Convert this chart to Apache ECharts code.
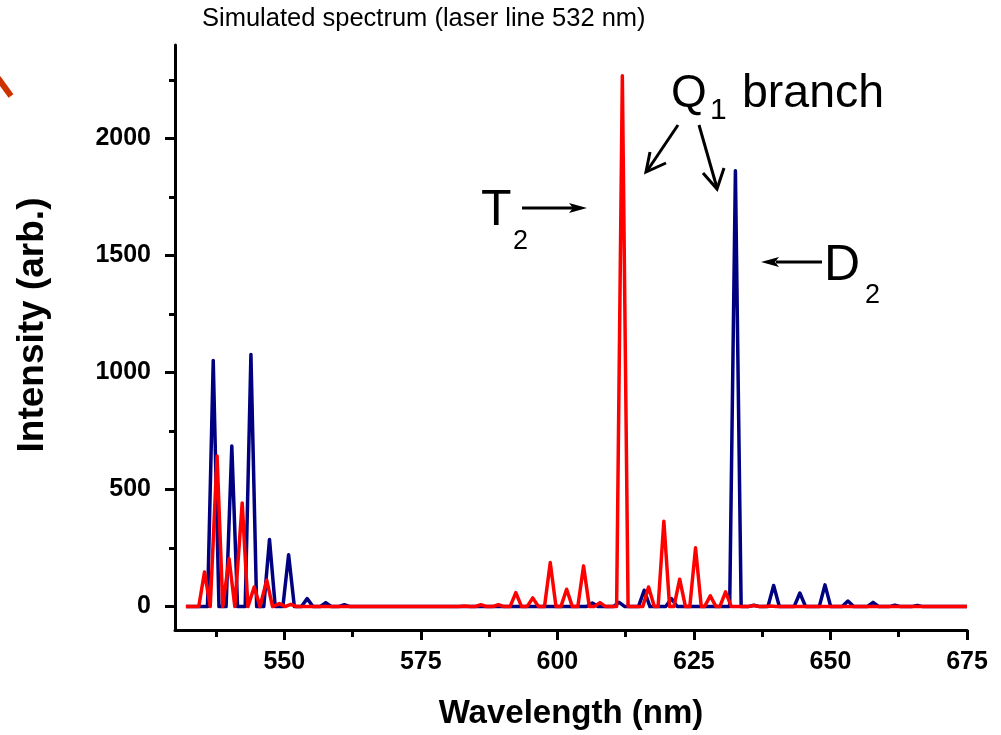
<!DOCTYPE html>
<html>
<head>
<meta charset="utf-8">
<title>Simulated spectrum</title>
<script src="https://cdn.jsdelivr.net/npm/echarts@6/dist/echarts.min.js"></script>
<style>
html, body { margin: 0; padding: 0; background: #fff; }
#main { width: 1001px; height: 735px; }
</style>
</head>
<body>
<div id="main"></div>
<script>
// 峰位置 (nm) 与峰高 (arb.)
var d2Centers = [537.0, 540.4, 543.9, 547.3, 550.8, 554.2, 557.6, 561.0, 606.4, 611.3, 615.9, 620.9, 632.6, 636.0, 639.6, 644.4, 649.0, 653.2, 657.8, 661.8, 665.9];
var d2Heights = [1052, 686, 1077, 287, 222, 34, 17, 8, 15, 18, 70, 34, 1863, 6, 90, 58, 93, 24, 18, 6, 5];

var t2Centers = [535.4, 537.7, 539.9, 542.3, 544.5, 546.8, 549.1, 551.2, 583.0, 586.0, 589.2, 592.4, 595.5, 598.7, 601.7, 604.8, 607.8, 611.9, 616.7, 619.5, 622.4, 625.3, 628.0, 630.8, 635.9, 639.0];
var t2Heights = [148, 644, 205, 443, 84, 113, 13, 10, 3, 8, 8, 60, 37, 188, 74, 174, 17, 2269, 84, 365, 117, 251, 46, 63, 5, 3];

// 坐标轴刻度
var xMajorTicks = [550, 575, 600, 625, 650, 675];
var xMinorTicks = [537.5, 562.5, 587.5, 612.5, 637.5, 662.5];
var yMajorTicks = [0, 500, 1000, 1500, 2000];
var yMinorTicks = [250, 750, 1250, 1750, 2250];

var FONT = '"Liberation Sans", Arial, Helvetica, sans-serif';
var START = 532, END = 675, HALF = 1.05;

// 把峰列表拼成折线数据（基线 - 峰顶 - 基线）
function buildSpectrum(centers, heights) {
    var pts = [[START, 0]];
    for (var i = 0; i < centers.length; i++) {
        pts.push([centers[i] - HALF, 0]);
        pts.push([centers[i], heights[i]]);
        pts.push([centers[i] + HALF, 0]);
    }
    pts.push([END, 0]);
    return pts;
}

var myChart = echarts.init(document.getElementById('main'));

var tickLabel = {
    color: '#000',
    fontFamily: FONT,
    fontWeight: 'bold',
    fontSize: 25,
    formatter: function (v) { return String(v); }
};

var option = {
    backgroundColor: '#fff',
    animation: false,
    title: {
        text: 'Simulated spectrum (laser line 532 nm)',
        left: 202,
        top: 6,
        padding: 0,
        textStyle: { fontFamily: FONT, fontWeight: 'normal', fontSize: 25.5, color: '#000' }
    },
    grid: { left: 175, right: 34, top: 45, bottom: 103 },
    xAxis: [{
        type: 'value',
        min: 530, max: 675,
        position: 'bottom',
        name: 'Wavelength (nm)',
        nameLocation: 'middle',
        nameGap: 67,
        nameTextStyle: { fontFamily: FONT, fontWeight: 'bold', fontSize: 33, color: '#000' },
        axisLine: { onZero: false, lineStyle: { color: '#000', width: 3 } },
        axisTick: { customValues: xMajorTicks, length: 10, lineStyle: { color: '#000', width: 3 } },
        axisLabel: Object.assign({ customValues: xMajorTicks, margin: 20 }, tickLabel),
        splitLine: { show: false }
    }, {
        type: 'value',
        min: 530, max: 675,
        position: 'bottom',
        axisLine: { show: false, onZero: false },
        axisTick: { customValues: xMinorTicks, length: 7, lineStyle: { color: '#000', width: 3 } },
        axisLabel: { show: false },
        splitLine: { show: false }
    }],
    yAxis: [{
        type: 'value',
        min: -100, max: 2400,
        position: 'left',
        name: 'Intensity (arb.)',
        nameLocation: 'middle',
        nameGap: 124,
        nameTextStyle: { fontFamily: FONT, fontWeight: 'bold', fontSize: 37, color: '#000', padding: [0, 0, 0, 25] },
        axisLine: { onZero: false, lineStyle: { color: '#000', width: 3 } },
        axisTick: { customValues: yMajorTicks, length: 10, lineStyle: { color: '#000', width: 3 } },
        axisLabel: Object.assign({ customValues: yMajorTicks, margin: 24 }, tickLabel),
        splitLine: { show: false }
    }, {
        type: 'value',
        min: -100, max: 2400,
        position: 'left',
        axisLine: { show: false, onZero: false },
        axisTick: { customValues: yMinorTicks, length: 6, lineStyle: { color: '#000', width: 3 } },
        axisLabel: { show: false },
        splitLine: { show: false }
    }],
    series: [{
        name: 'D2',
        type: 'line',
        showSymbol: false,
        data: buildSpectrum(d2Centers, d2Heights),
        lineStyle: { color: '#000080', width: 3.5, join: 'round' },
        itemStyle: { color: '#000080' },
        z: 2
    }, {
        name: 'T2',
        type: 'line',
        showSymbol: false,
        data: buildSpectrum(t2Centers, t2Heights),
        lineStyle: { color: '#ff0000', width: 3.5, join: 'round' },
        itemStyle: { color: '#ff0000' },
        z: 3
    }],
    graphic: [
        // 左上角残留的橙色箭头
        { type: 'line', shape: { x1: -2, y1: 78, x2: 11, y2: 96 }, style: { stroke: '#cc3300', lineWidth: 6 } },

        // Q1 branch
        { type: 'text', style: { text: 'Q', x: 671, y: 94, fontSize: 46, fontFamily: FONT, fill: '#000', align: 'left', verticalAlign: 'middle' } },
        { type: 'text', style: { text: '1', x: 710, y: 111, fontSize: 30, fontFamily: FONT, fill: '#000', align: 'left', verticalAlign: 'middle' } },
        { type: 'text', style: { text: 'branch', x: 742, y: 94, fontSize: 46.5, fontFamily: FONT, fill: '#000', align: 'left', verticalAlign: 'middle' } },
        { type: 'line', shape: { x1: 678, y1: 125, x2: 647, y2: 171 }, style: { stroke: '#000', lineWidth: 3 } },
        { type: 'polyline', shape: { points: [[666, 163], [646, 172], [650, 152]] }, style: { stroke: '#000', lineWidth: 3, fill: null } },
        { type: 'line', shape: { x1: 699, y1: 125, x2: 717, y2: 188 }, style: { stroke: '#000', lineWidth: 3 } },
        { type: 'polyline', shape: { points: [[703, 173], [717, 189], [724, 168]] }, style: { stroke: '#000', lineWidth: 3, fill: null } },

        // T2 标注
        { type: 'text', style: { text: 'T', x: 481, y: 211, fontSize: 50, fontFamily: FONT, fill: '#000', align: 'left', verticalAlign: 'middle' } },
        { type: 'text', style: { text: '2', x: 513, y: 242, fontSize: 27, fontFamily: FONT, fill: '#000', align: 'left', verticalAlign: 'middle' } },
        { type: 'line', shape: { x1: 522, y1: 208, x2: 574, y2: 208 }, style: { stroke: '#000', lineWidth: 3 } },
        { type: 'polygon', shape: { points: [[587, 208], [569, 203], [573, 208], [569, 213]] }, style: { fill: '#000' } },

        // D2 标注
        { type: 'text', style: { text: 'D', x: 824, y: 266, fontSize: 50, fontFamily: FONT, fill: '#000', align: 'left', verticalAlign: 'middle' } },
        { type: 'text', style: { text: '2', x: 865, y: 296, fontSize: 27, fontFamily: FONT, fill: '#000', align: 'left', verticalAlign: 'middle' } },
        { type: 'line', shape: { x1: 822, y1: 262, x2: 776, y2: 262 }, style: { stroke: '#000', lineWidth: 3 } },
        { type: 'polygon', shape: { points: [[761, 262], [779, 257], [775, 262], [779, 267]] }, style: { fill: '#000' } }
    ]
};

myChart.setOption(option);
window.onresize = myChart.resize;
</script>
</body>
</html>
